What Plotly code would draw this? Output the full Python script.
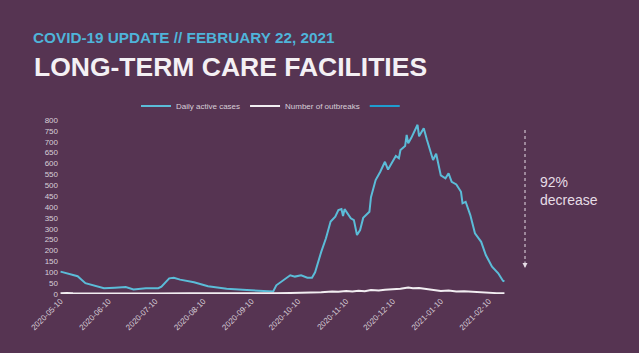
import plotly.graph_objects as go

# ---- data ----
case_dates = [
    "2020-05-10", "2020-05-15", "2020-05-21", "2020-05-26", "2020-06-02", "2020-06-07",
    "2020-06-14", "2020-06-21", "2020-06-26", "2020-07-04", "2020-07-12", "2020-07-14",
    "2020-07-19", "2020-07-22", "2020-07-26", "2020-07-29", "2020-08-04", "2020-08-13",
    "2020-08-25", "2020-09-07", "2020-09-18", "2020-09-22", "2020-09-24", "2020-09-26",
    "2020-09-29", "2020-10-05", "2020-10-08", "2020-10-12", "2020-10-16", "2020-10-19",
    "2020-10-21", "2020-10-23", "2020-10-25", "2020-10-28", "2020-10-31", "2020-11-03",
    "2020-11-05", "2020-11-07", "2020-11-08", "2020-11-09", "2020-11-13", "2020-11-15",
    "2020-11-17", "2020-11-19", "2020-11-21", "2020-11-25", "2020-11-26", "2020-11-29",
    "2020-12-02", "2020-12-05", "2020-12-07", "2020-12-12", "2020-12-14", "2020-12-15",
    "2020-12-18", "2020-12-19", "2020-12-20", "2020-12-22", "2020-12-25", "2020-12-26",
    "2020-12-27", "2020-12-30", "2021-01-01", "2021-01-04", "2021-01-05", "2021-01-07",
    "2021-01-10", "2021-01-13", "2021-01-15", "2021-01-17", "2021-01-20", "2021-01-23",
    "2021-01-24", "2021-01-26", "2021-01-29", "2021-02-01", "2021-02-05", "2021-02-08",
    "2021-02-12", "2021-02-16", "2021-02-19", "2021-02-20",
]
daily_active_cases = [
    103, 95, 82, 50, 38, 27,
    29, 32, 21, 26, 27, 34,
    72, 75, 66, 62, 54, 36,
    24, 18, 14, 11, 12, 40,
    54, 86, 80, 86, 75, 75,
    100, 149, 195, 256, 333, 356,
    386, 391, 358, 390, 348, 340,
    271, 294, 350, 378, 445, 524,
    562, 608, 572, 635, 624, 662,
    680, 731, 693, 718, 762, 778,
    725, 762, 710, 647, 616, 645,
    545, 532, 555, 516, 504, 470,
    417, 424, 363, 279, 240, 179,
    126, 95, 61, 58,
]

outbreak_dates = [
    "2020-05-10", "2020-05-14", "2020-05-18", "2020-06-01", "2020-06-20", "2020-07-10",
    "2020-08-01", "2020-08-20", "2020-09-10", "2020-09-25", "2020-10-05", "2020-10-15",
    "2020-10-25", "2020-11-01", "2020-11-05", "2020-11-10", "2020-11-14", "2020-11-18",
    "2020-11-22", "2020-11-26", "2020-12-01", "2020-12-05", "2020-12-10", "2020-12-15",
    "2020-12-20", "2020-12-23", "2020-12-27", "2021-01-01", "2021-01-05", "2021-01-10",
    "2021-01-15", "2021-01-20", "2021-01-25", "2021-02-01", "2021-02-05", "2021-02-10",
    "2021-02-15", "2021-02-20",
]
number_of_outbreaks = [
    3, 5, 3, 2, 3, 2,
    3, 2, 2, 3, 5, 6,
    8, 12, 10, 14, 12, 15,
    13, 18, 16, 20, 22, 24,
    30, 26, 28, 22, 18, 14,
    16, 12, 13, 9, 7, 5,
    4, 4,
]

tick_dates = [
    "2020-05-10", "2020-06-10", "2020-07-10", "2020-08-10", "2020-09-10",
    "2020-10-10", "2020-11-10", "2020-12-10", "2021-01-10", "2021-02-10",
]
y_ticks = list(range(0, 801, 50))

# ---- styling ----
BG = "#563452"
BLUE = "#5bbcd8"
DARKBLUE = "#1f9dd0"
WHITE = "#f2eef2"
TICK = "#d8cfd8"
FONT = "Liberation Sans, Arial, sans-serif"

fig = go.Figure()
fig.add_trace(go.Scatter(x=case_dates, y=daily_active_cases, mode="lines",
                         name="Daily active cases",
                         line=dict(color=BLUE, width=2)))
fig.add_trace(go.Scatter(x=outbreak_dates, y=number_of_outbreaks, mode="lines",
                         name="Number of outbreaks",
                         line=dict(color=WHITE, width=2)))
fig.add_trace(go.Scatter(x=[None], y=[None], mode="lines", name=" ",
                         line=dict(color=DARKBLUE, width=2)))

L, R, T, B = 59, 133, 120, 59
W, H = 639, 353
pw, ph = W - L - R, H - T - B


def px_x(p):
    return (p - L) / pw


def px_y(p):
    return (H - B - p) / ph


fig.update_layout(
    width=W, height=H,
    margin=dict(l=L, r=R, t=T, b=B),
    paper_bgcolor=BG, plot_bgcolor=BG,
    font=dict(family=FONT, color=TICK, size=8),
    showlegend=True,
    legend=dict(orientation="h", x=px_x(274), xanchor="center",
                y=px_y(106), yanchor="middle",
                font=dict(size=8, color=TICK), bgcolor="rgba(0,0,0,0)",
                itemwidth=30),
    xaxis=dict(type="date", range=["2020-05-09", "2021-02-21"],
               tickvals=tick_dates, ticktext=tick_dates,
               tickangle=-45, showgrid=False, zeroline=False, showline=False,
               ticks="", tickfont=dict(size=8, color=TICK)),
    yaxis=dict(range=[0, 800], tickvals=y_ticks, showgrid=False, zeroline=False,
               showline=False, ticks="", tickfont=dict(size=8, color=TICK)),
)

fig.add_annotation(xref="paper", yref="paper", x=px_x(31), y=px_y(37),
                   xanchor="left", yanchor="middle", showarrow=False,
                   text="<b>COVID-19 UPDATE // FEBRUARY 22, 2021</b>",
                   font=dict(family=FONT, size=15.3, color="#4fb4da"))
fig.add_annotation(xref="paper", yref="paper", x=px_x(32), y=px_y(67),
                   xanchor="left", yanchor="middle", showarrow=False,
                   text="<b>LONG-TERM CARE FACILITIES</b>",
                   font=dict(family=FONT, size=26.5, color="#f4f0f4"))

# dotted arrow + label
fig.add_shape(type="line", xref="paper", yref="paper",
              x0=px_x(525), x1=px_x(525), y0=px_y(130), y1=px_y(262),
              line=dict(color="#e6dde6", width=1, dash="dot"))
fig.add_annotation(xref="paper", yref="paper", x=px_x(525), y=px_y(268),
                   ax=0, ay=-8, text="", showarrow=True, arrowhead=2,
                   arrowsize=1, arrowwidth=1, arrowcolor="#e6dde6")
fig.add_annotation(xref="paper", yref="paper", x=px_x(538), y=px_y(172),
                   xanchor="left", yanchor="top", showarrow=False, align="left",
                   text="92%<br>decrease",
                   font=dict(family=FONT, size=14, color="#e6dde6"))

fig.write_html("out.html")
